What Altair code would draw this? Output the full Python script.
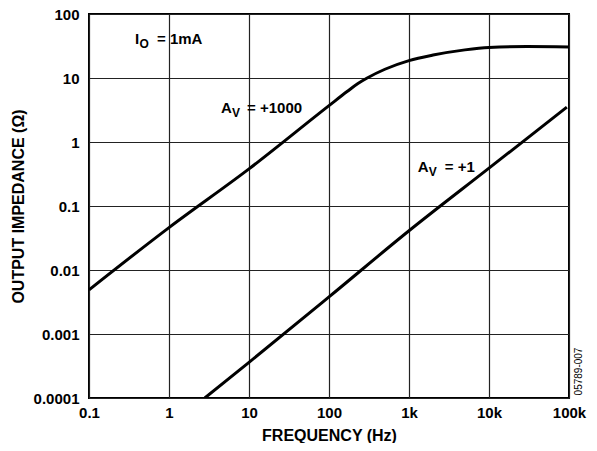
import altair as alt
import pandas as pd

# ---- data ----
av1000_freq = [0.1, 1, 10, 100, 170, 230, 300, 500, 1000, 2000, 5000, 10000, 30000, 100000]
av1000_zout = [0.0049, 0.046, 0.38, 3.7, 6.2, 8.2, 10, 13.7, 18.7, 22.8, 27.5, 30, 31, 30.5]

av1_freq = [2.8, 10, 100, 1000, 10000, 94000]
av1_zout = [0.0001, 0.00036, 0.0038, 0.041, 0.39, 3.5]

x_ticks = [0.1, 1, 10, 100, 1000, 10000, 100000]
y_ticks = [0.0001, 0.001, 0.01, 0.1, 1, 10, 100]

# annotation anchors (data coordinates) and text pieces
ann_main = ["I", "A", "A"]
ann_sub = ["O", "V", "V"]
ann_rest = ["= 1mA", "= +1000", "= +1"]
ann_x = [0.376, 4.47, 1290]
ann_y = [34, 2.87, 0.34]
ann_sub_dx = [4.5, 11.0, 11.0]
ann_rest_dx = [22.0, 26.0, 27.0]

FONT = "Liberation Sans"

lines = pd.DataFrame(
    {"freq": av1000_freq + av1_freq,
     "zout": av1000_zout + av1_zout,
     "series": ["Av1000"] * len(av1000_freq) + ["Av1"] * len(av1_freq)}
)

xscale = alt.Scale(type="log", domain=[0.1, 100000], nice=False)
yscale = alt.Scale(type="log", domain=[0.0001, 100], nice=False)

xaxis = alt.Axis(
    values=x_ticks,
    labelExpr="datum.value >= 1000 ? format(datum.value/1000, '~g') + 'k' : format(datum.value, '~g')",
    title="FREQUENCY (Hz)",
    titleY=42, titleBaseline="alphabetic",
    labelPadding=7, labelFlush=False,
)
yaxis = alt.Axis(
    values=y_ticks,
    labelExpr="format(datum.value, '~g')",
    title="OUTPUT IMPEDANCE (Ω)",
    titleX=-71, titleY=192, titleBaseline="middle", titleAlign="center",
    labelPadding=10, labelFlush=False,
)

curves = alt.Chart(lines).mark_line(
    color="black", strokeWidth=3, interpolate="monotone", clip=True
).encode(
    x=alt.X("freq:Q", scale=xscale, axis=xaxis),
    y=alt.Y("zout:Q", scale=yscale, axis=yaxis),
    detail="series:N",
)

layers = [curves]
for i in range(len(ann_main)):
    row = pd.DataFrame({"x": [ann_x[i]], "y": [ann_y[i]], "main": [ann_main[i]],
                        "sub": [ann_sub[i]], "rest": [ann_rest[i]]})
    b = alt.Chart(row).encode(x=alt.X("x:Q", scale=xscale), y=alt.Y("y:Q", scale=yscale))
    layers.append(b.mark_text(font=FONT, fontSize=15, fontWeight="bold", align="left",
                              baseline="alphabetic", color="black").encode(text="main:N"))
    layers.append(b.mark_text(font=FONT, fontSize=12, fontWeight="bold", align="left",
                              baseline="alphabetic", color="black",
                              dx=ann_sub_dx[i], dy=4).encode(text="sub:N"))
    layers.append(b.mark_text(font=FONT, fontSize=15, fontWeight="bold", align="left",
                              baseline="alphabetic", color="black",
                              dx=ann_rest_dx[i]).encode(text="rest:N"))

code = alt.Chart(pd.DataFrame({"t": ["05789-007"]})).mark_text(
    font=FONT, fontSize=10, angle=270, align="center", baseline="middle", color="black"
).encode(x=alt.value(490), y=alt.value(357.5), text="t:N")
layers.append(code)

chart = alt.layer(*layers).properties(
    width=480, height=384,
    autosize=alt.AutoSizeParams(type="none"),
    padding={"left": 81, "top": 6, "right": 20, "bottom": 45},
).configure_view(
    stroke="black", strokeWidth=2
).configure_axis(
    grid=True, gridColor="#222222", gridWidth=1.2, gridOpacity=1,
    domain=False, ticks=False, tickSize=0,
    labelFont=FONT, labelFontSize=15, labelFontWeight="bold", labelColor="black",
    titleFont=FONT, titleFontSize=16, titleFontWeight="bold", titleColor="black",
)

chart.save("out.html", embed_options={"renderer": "svg", "actions": False})
